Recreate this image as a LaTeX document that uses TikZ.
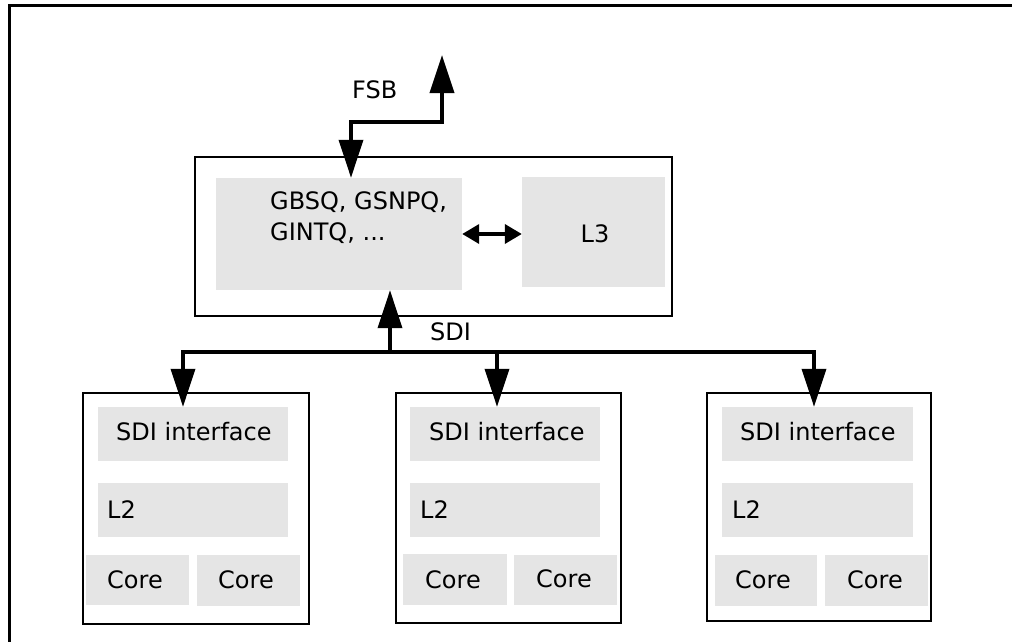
\documentclass[tikz,border=0pt]{standalone}
\usepackage{fontspec}
\setmainfont{DejaVu Sans}
\usetikzlibrary{arrows.meta}
\definecolor{boxgray}{RGB}{229,229,229}
\tikzset{
  frame/.style={draw, line width=2.6pt, inner sep=0pt, fill=white},
  gbox/.style={fill=boxgray, inner sep=0pt},
  lbl/.style={inner sep=0pt, anchor=base west, font=\fontsize{24}{31}\selectfont, align=left},
  bus/.style={line width=3.6pt},
  bigtip/.style={-{Triangle[length=38pt,width=24pt]}},
  bothtip/.style={{Triangle[length=38pt,width=24pt]}-{Triangle[length=38pt,width=24pt]}},
  smalltips/.style={{Triangle[length=17pt,width=19pt]}-{Triangle[length=17pt,width=19pt]}},
}
\begin{document}
\begin{tikzpicture}[x=1pt,y=-1pt]
\useasboundingbox (0,0) rectangle (1012,642);
\begin{scope}
  \clip (0,0) rectangle (1012,642);
  \draw[line width=3pt] (9,680) -- (9,6) -- (1050,6);
\end{scope}

% top block
\node[frame, minimum width=477pt, minimum height=159pt] (cpu) at (433.5,236.5) {};
\node[gbox, minimum width=246pt, minimum height=112pt] (gbsq) at (339,234) {};
\node[gbox, minimum width=143pt, minimum height=110pt] (l3) at (593.5,232) {};
\node[lbl] (gbsqt) at (270,240) {GBSQ, GSNPQ,\\GINTQ, ...};
\node[lbl, anchor=base] (l3t) at (595,242) {L3};

% bottom blocks
\node[frame, minimum width=226pt, minimum height=231pt] (m1) at (196,508.5) {};
\node[gbox, minimum width=190pt, minimum height=54pt] (s1) at (193,434) {};
\node[gbox, minimum width=190pt, minimum height=54pt] (l2a) at (193,510) {};
\node[gbox, minimum width=103pt, minimum height=50pt] (c1a) at (137.5,580) {};
\node[gbox, minimum width=103pt, minimum height=51pt] (c2a) at (248.5,580.5) {};

\node[frame, minimum width=225pt, minimum height=230pt] (m2) at (508.5,508) {};
\node[gbox, minimum width=190pt, minimum height=54pt] (s2) at (505,434) {};
\node[gbox, minimum width=190pt, minimum height=54pt] (l2b) at (505,510) {};
\node[gbox, minimum width=104pt, minimum height=51pt] (c1b) at (455,579.5) {};
\node[gbox, minimum width=103pt, minimum height=50pt] (c2b) at (565.5,580) {};

\node[frame, minimum width=224pt, minimum height=228pt] (m3) at (819,507) {};
\node[gbox, minimum width=191pt, minimum height=54pt] (s3) at (817.5,434) {};
\node[gbox, minimum width=191pt, minimum height=54pt] (l2c) at (817.5,510) {};
\node[gbox, minimum width=102pt, minimum height=51pt] (c1c) at (766,580.5) {};
\node[gbox, minimum width=103pt, minimum height=51pt] (c2c) at (876.5,580.5) {};

% texts in bottom blocks
\node[lbl] (s1t) at (116,440) {SDI interface};
\node[lbl] (s2t) at (429,440) {SDI interface};
\node[lbl] (s3t) at (740,440) {SDI interface};
\node[lbl] (l2at) at (107,518) {L2};
\node[lbl] (l2bt) at (420,518) {L2};
\node[lbl] (l2ct) at (732,518) {L2};
\node[lbl] (c1at) at (107,588) {Core};
\node[lbl] (c2at) at (218,588) {Core};
\node[lbl] (c1bt) at (425,588) {Core};
\node[lbl] (c2bt) at (536,587) {Core};
\node[lbl] (c1ct) at (735,588) {Core};
\node[lbl] (c2ct) at (847,588) {Core};

% bus labels
\node[lbl] (fsbt) at (352,99) {FSB};
\node[lbl] (sdit) at (430,340) {SDI};

% FSB connector
\coordinate (fsbtop) at (442,55);
\coordinate (fsbbend) at (351,122);
\draw[bus, bothtip] (fsbtop) |- (fsbbend) -- (fsbbend |- gbsq.north);

% queue <-> L3
\draw[bus, smalltips] (gbsq.east) -- (gbsq.east -| l3.west);

% SDI bus
\coordinate (sdij) at (390,352);
\coordinate (b1) at (183,352);
\coordinate (b2) at (497,352);
\coordinate (b3) at (814,352);
\draw[bus, bigtip] (sdij) -- (sdij |- gbsq.south);
\draw[bus, bigtip] (sdij) -| (b1 |- s1.north);
\draw[bus, bigtip] (sdij) -| (b2 |- s2.north);
\draw[bus, bigtip] (b2) -| (b3 |- s3.north);
\end{tikzpicture}
\end{document}
